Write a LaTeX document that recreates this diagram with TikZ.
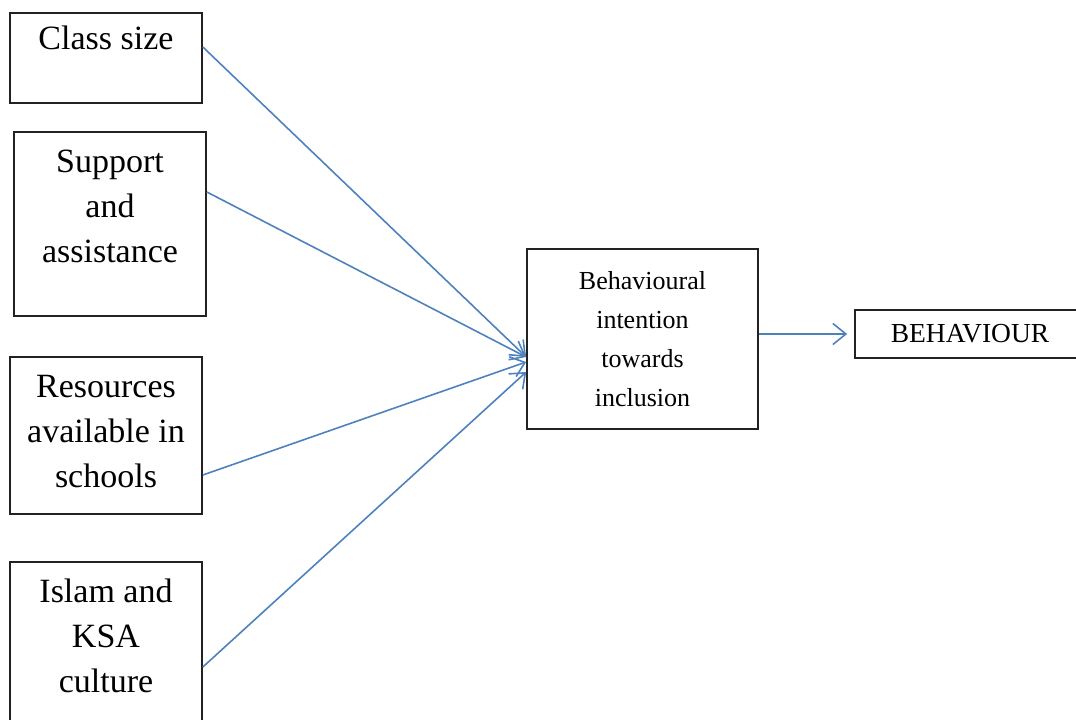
\documentclass[tikz,border=0pt]{standalone}
\usepackage{fontspec}
\setmainfont{Liberation Serif}
\usetikzlibrary{arrows.meta}

\definecolor{linkblue}{HTML}{4F81BD}
\definecolor{frameink}{HTML}{222222}

% width, height, top padding, text: a fixed-size box with its text set from the top
\newcommand{\stackedtext}[4]{%
  \parbox[c][#2][t]{#1}{\vspace*{#3}\centering #4\par}}

\tikzset{
  factor/.style={draw=frameink, line width=1.7pt, inner sep=0pt,
                 font=\fontsize{34}{45}\selectfont},
  intent/.style={draw=frameink, line width=1.7pt, inner sep=0pt,
                 font=\fontsize{26}{39}\selectfont},
  outcome/.style={draw=frameink, line width=1.7pt, inner sep=0pt,
                  minimum width=230pt, minimum height=48pt,
                  font=\fontsize{27.5}{32}\selectfont},
  link/.style={draw=linkblue, line width=1.6pt,
               -{Straight Barb[length=13pt,width=21pt,line width=1.6pt]}}
}

\begin{document}
\begin{tikzpicture}[x=1pt, y=-1pt]
  \useasboundingbox (0,0) rectangle (1076,720);

  % influencing factors
  \node[factor] (cs) at (106,58)    {\stackedtext{192pt}{90pt}{13pt}{Class size}};
  \node[factor] (ss) at (110,224)   {\stackedtext{192pt}{184pt}{18pt}{Support\\and\\assistance}};
  \node[factor] (rs) at (106,435.5) {\stackedtext{192pt}{157pt}{18pt}{Resources\\available in\\schools}};
  \node[factor] (is) at (106,651)   {\stackedtext{192pt}{178pt}{17pt}{Islam and\\KSA\\culture}};

  % intention and resulting behaviour
  \node[intent] (bi) at (642.5,339) {\stackedtext{231pt}{180pt}{22pt}{Behavioural\\intention\\towards\\inclusion}};
  \node[outcome] (bh) at (970,334) {BEHAVIOUR};

  % connectors
  \draw[link] ([yshift=11pt]cs.east)    -- ([yshift=-18pt]bi.west);
  \draw[link] ([yshift=32pt]ss.east)    -- ([yshift=-18pt]bi.west);
  \draw[link] ([yshift=-39.5pt]rs.east) -- ([yshift=-23pt]bi.west);
  \draw[link] ([yshift=-16pt]is.east)   -- ([yshift=-33pt]bi.west);
  \draw[link, shorten >=7pt] (bi.east |- bh.west) -- (bh.west);
\end{tikzpicture}
\end{document}
